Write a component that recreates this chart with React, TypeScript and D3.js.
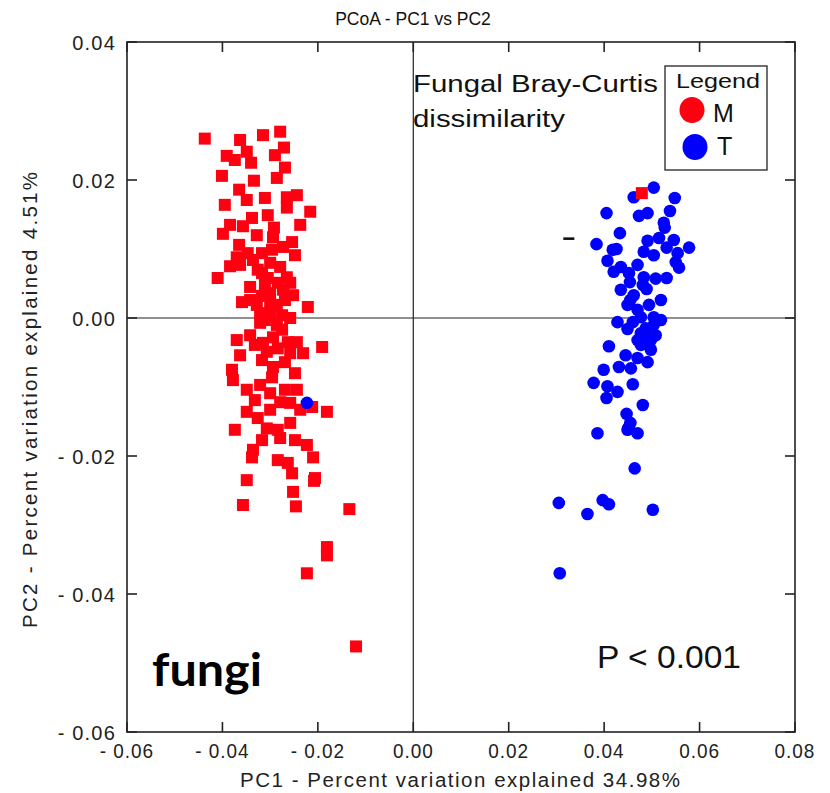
import React from "react";
import * as d3 from "d3";

// ---- data ----
const xTicks = [-0.06, -0.04, -0.02, 0.0, 0.02, 0.04, 0.06, 0.08];
const yTicks = [-0.06, -0.04, -0.02, 0.0, 0.02, 0.04];

// Group M (red squares): PC1, PC2
const mPC1 = [
  -0.0437, -0.0315, -0.0279, -0.0271, -0.0391, -0.0374, -0.0349, -0.034, -0.0269, -0.0286,
  -0.0401, -0.0334, -0.0365, -0.0349, -0.0311, -0.0265, -0.0244, -0.0265, -0.0216, -0.0338,
  -0.0357, -0.0399, -0.0328, -0.0292, -0.0294, -0.0254, -0.0365, -0.0347, -0.0317, -0.0296,
  -0.0273, -0.037, -0.0384, -0.0336, -0.03, -0.0279, -0.041, -0.0317, -0.0265, -0.0342,
  -0.0311, -0.0284, -0.0258, -0.03, -0.0252, -0.0359, -0.0342, -0.0328, -0.0286, -0.0221,
  -0.0321, -0.03, -0.0275, -0.03, -0.0286, -0.0321, -0.037, -0.0342, -0.0315, -0.0294,
  -0.0263, -0.0244, -0.0307, -0.0258, -0.0231, -0.0191, -0.038, -0.0294, -0.0296, -0.0248,
  -0.0378, -0.0349, -0.03, -0.0244, -0.0279, -0.0258, -0.0212, -0.0181, -0.0349, -0.0326,
  -0.0307, -0.0284, -0.0258, -0.0279, -0.0223, -0.021, -0.0336, -0.0338, -0.0284, -0.0263,
  -0.0254, -0.0349, -0.0206, -0.0252, -0.0357, -0.0208, -0.0246, -0.0134, -0.0181, -0.0181,
  -0.0223, -0.012,
  -0.0326, -0.0305, -0.0273, -0.0317, -0.0269, -0.0311, -0.0258, -0.0275, -0.0332, -0.0284,
  -0.0317, -0.0269, -0.0363, -0.0321, -0.0269, -0.0332, -0.0237, -0.03, -0.0363, -0.0248,
  -0.0384, -0.0305, -0.0237, -0.0395, -0.029, -0.0363, -0.0248, -0.0317, -0.0374,
  0.0479,
];
const mPC2 = [
  0.026, 0.0265, 0.027, 0.0247, 0.0235, 0.0229, 0.0241, 0.0225, 0.0218, 0.0203,
  0.0206, 0.0199, 0.0186, 0.0171, 0.0174, 0.0175, 0.0178, 0.016, 0.0154, 0.0145,
  0.0133, 0.0122, 0.012, 0.0131, 0.0117, 0.011, 0.0106, 0.0094, 0.0094, 0.0099,
  0.0103, 0.0088, 0.0075, 0.0084, 0.008, 0.0074, 0.0058, 0.0065, 0.0059, 0.0045,
  0.0048, 0.0051, 0.0051, 0.0036, 0.0033, 0.0023, 0.0026, 0.0019, 0.0019, 0.0016,
  0.0007, 0.0004, 0.0004, 0.0019, -0.001, -0.0007, -0.0032, -0.0025, -0.0036, -0.0028,
  -0.0035, -0.0035, -0.0049, -0.0051, -0.0051, -0.0042, -0.0075, -0.0071, -0.0086, -0.008,
  -0.009, -0.0104, -0.0109, -0.0104, -0.0122, -0.0123, -0.0129, -0.0136, -0.0136, -0.0145,
  -0.016, -0.0162, -0.0152, -0.0174, -0.0184, -0.0202, -0.0191, -0.0202, -0.0206, -0.021,
  -0.0225, -0.0235, -0.0232, -0.0252, -0.0271, -0.0236, -0.0273, -0.0277, -0.0332, -0.0344,
  -0.037, -0.0476,
  0.007, 0.0058, 0.0041, 0.0032, 0.0026, -0.0003, 0.0, -0.0017, -0.0039, -0.0044,
  -0.0061, -0.0064, -0.0054, -0.0097, -0.0104, -0.0119, -0.0133, -0.0133, 0.0077, 0.0091,
  0.0135, 0.0149, 0.0135, 0.0164, 0.0236, 0.0258, -0.0177, -0.0177, -0.0162,
  0.0181,
];

// Group T (blue circles): PC1, PC2
const tPC1 = [
  0.0504, 0.0462, 0.0548, 0.0405, 0.0473, 0.0491, 0.0538, 0.0525, 0.0527, 0.0433,
  0.0515, 0.0491, 0.0546, 0.0384, 0.0418, 0.0426, 0.0483, 0.0504, 0.0531, 0.0554,
  0.0578, 0.0407, 0.0435, 0.042, 0.047, 0.055, 0.0557, 0.0452, 0.0483, 0.0508,
  0.0531, 0.0454, 0.0481, 0.0489, 0.0462, 0.0449, 0.0494, 0.047, 0.0477, 0.0504,
  0.0428, 0.0519, 0.0504, 0.0449, 0.0477, 0.0494, 0.0483, 0.041, 0.0498, 0.0477,
  0.047, 0.0491, 0.0399, 0.0431, 0.0456, 0.0378, 0.0407, 0.0428, 0.046, 0.0405,
  0.0447, 0.0481, 0.0386, 0.0449, 0.047, 0.0464, 0.0305, 0.0397, 0.041, 0.0365,
  0.0502, 0.0307, -0.0223, 0.0455, 0.0452,
  0.046, 0.0487, 0.047, 0.0508, 0.0455, 0.0519, 0.0435, 0.0498, 0.0445,
];
const tPC2 = [
  0.0189, 0.0175, 0.0174, 0.0152, 0.0148, 0.0152, 0.0155, 0.0138, 0.0131, 0.0123,
  0.0116, 0.0112, 0.0113, 0.0107, 0.0099, 0.01, 0.0096, 0.0091, 0.0102, 0.0094,
  0.0102, 0.0083, 0.0074, 0.0067, 0.0077, 0.0081, 0.0073, 0.0065, 0.0059, 0.0057,
  0.0058, 0.0052, 0.0048, 0.0042, 0.0033, 0.0019, 0.0019, 0.0012, 0.0001, 0.0001,
  -0.0006, -0.0003, -0.001, -0.0016, -0.0022, -0.0028, -0.0036, -0.0041, -0.0032, -0.0039,
  -0.0058, -0.0064, -0.0075, -0.0071, -0.0073, -0.0094, -0.0099, -0.0107, -0.0096, -0.0116,
  -0.0139, -0.0126, -0.0167, -0.0162, -0.0167, -0.0218, -0.0268, -0.0264, -0.027, -0.0284,
  -0.0278, -0.037, -0.0123, -0.0152, -0.0158,
  -0.0006, -0.0015, -0.0032, -0.0025, 0.0026, 0.0026, 0.0041, -0.0046, -0.0054,
];

// small black dash annotation
const dashPoint = [0.0326, 0.0115];

const W = 830;
const H = 793;

export default function App() {
  const x = d3.scaleLinear().domain([-0.06, 0.08]).range([127, 795]);
  const y = d3.scaleLinear().domain([-0.06, 0.04]).range([732, 42]);
  const [x0, x1] = x.range();
  const [y0, y1] = y.range();
  const fmt = (v: number) => {
    const s = d3.format(".2f")(Math.abs(v) < 1e-9 ? 0 : v);
    return s.replace(/^[−-]/, "- ");
  };
  const tickLen = 10;
  const font = "'Liberation Sans', Arial, Helvetica, sans-serif";
  const sq = 12;
  const rad = 6.3;
  const red = "#ff0010";
  const blue = "#0000ff";

  const mIdx = mPC1.map((_, i) => i);
  const tIdx = tPC1.map((_, i) => i);
  const mLeft = mIdx.filter((i) => mPC1[i] < 0);
  const mRight = mIdx.filter((i) => mPC1[i] >= 0);

  const square = (i: number) => (
    <rect
      key={"m" + i}
      x={x(mPC1[i]) - sq / 2}
      y={y(mPC2[i]) - sq / 2}
      width={sq}
      height={sq}
      fill={red}
    />
  );

  return (
    <div style={{ position: "absolute", left: 0, top: 0 }}>
      <svg width={W} height={H} style={{ display: "block", background: "#fff" }}>
        {/* zero lines */}
        <line x1={x0} x2={x1} y1={y(0)} y2={y(0)} stroke="#222" strokeWidth={1.2} />
        <line x1={x(0)} x2={x(0)} y1={y0} y2={y1} stroke="#222" strokeWidth={1.2} />

        {/* points */}
        <g>{mLeft.map(square)}</g>
        <g>
          {tIdx.map((i) => (
            <circle key={"t" + i} cx={x(tPC1[i])} cy={y(tPC2[i])} r={rad} fill={blue} />
          ))}
        </g>
        <g>{mRight.map(square)}</g>

        <rect
          x={x(dashPoint[0]) - 5.5}
          y={y(dashPoint[1]) - 1.3}
          width={11}
          height={2.6}
          fill="#111"
        />

        {/* frame */}
        <rect x={x0} y={y1} width={x1 - x0} height={y0 - y1} fill="none" stroke="#222" strokeWidth={1.6} />

        {/* ticks */}
        {xTicks.map((t) => (
          <g key={"xt" + t}>
            <line x1={x(t)} x2={x(t)} y1={y0} y2={y0 - tickLen} stroke="#222" strokeWidth={1.6} />
            <line x1={x(t)} x2={x(t)} y1={y1} y2={y1 + tickLen} stroke="#222" strokeWidth={1.6} />
            <text
              x={x(t)}
              y={758}
              textAnchor="middle"
              fontFamily={font}
              fontSize={20}
              letterSpacing={1}
              fill="#222"
              transform={`translate(${x(t)},0) scale(0.95,1) translate(${-x(t)},0)`}
            >
              {fmt(t)}
            </text>
          </g>
        ))}
        {yTicks.map((t) => (
          <g key={"yt" + t}>
            <line x1={x0} x2={x0 + tickLen} y1={y(t)} y2={y(t)} stroke="#222" strokeWidth={1.6} />
            <line x1={x1} x2={x1 - tickLen} y1={y(t)} y2={y(t)} stroke="#222" strokeWidth={1.6} />
            <text
              x={116}
              y={y(t) + 7.5}
              textAnchor="end"
              fontFamily={font}
              fontSize={20}
              letterSpacing={1.2}
              fill="#222"
            >
              {fmt(t)}
            </text>
          </g>
        ))}

        {/* title and axis labels */}
        <text x={413} y={25} textAnchor="middle" fontFamily={font} fontSize={17.5} fill="#111">
          PCoA - PC1 vs PC2
        </text>
        <text x={240} y={787} fontFamily={font} fontSize={20.5} fill="#222" textLength={440} lengthAdjust="spacing">
          PC1 - Percent variation explained 34.98%
        </text>
        <text
          transform="translate(37,628) rotate(-90)"
          x={0}
          y={0}
          fontFamily={font}
          fontSize={20.5}
          fill="#222"
          textLength={456}
          lengthAdjust="spacing"
        >
          PC2 - Percent variation explained 4.51%
        </text>

        {/* annotations */}
        <text x={413} y={92} fontFamily={font} fontSize={23} fill="#111" textLength={245} lengthAdjust="spacingAndGlyphs">
          Fungal Bray-Curtis
        </text>
        <text x={413} y={127} fontFamily={font} fontSize={23} fill="#111" textLength={152} lengthAdjust="spacingAndGlyphs">
          dissimilarity
        </text>

        {/* legend */}
        <rect x={665} y={66} width={102} height={104} fill="#fff" stroke="#333" strokeWidth={1.4} />
        <text x={676} y={88} fontFamily={font} fontSize={21} fill="#111" textLength={84} lengthAdjust="spacingAndGlyphs">
          Legend
        </text>
        <ellipse cx={692} cy={110} rx={12.5} ry={13} fill={red} />
        <text x={713} y={122} fontFamily={font} fontSize={25} fill="#111">
          M
        </text>
        <ellipse cx={695} cy={147} rx={12.5} ry={13} fill={blue} />
        <text x={717} y={155} fontFamily={font} fontSize={25} fill="#111">
          T
        </text>

        <text x={152} y={686} fontFamily="Lato, 'Open Sans', sans-serif" fontWeight={700} fontSize={45} fill="#000" textLength={110} lengthAdjust="spacingAndGlyphs">
          fungi
        </text>
        <text x={597} y={668} fontFamily={font} fontSize={31} fill="#111" textLength={144} lengthAdjust="spacingAndGlyphs">
          P &lt; 0.001
        </text>
      </svg>
    </div>
  );
}
